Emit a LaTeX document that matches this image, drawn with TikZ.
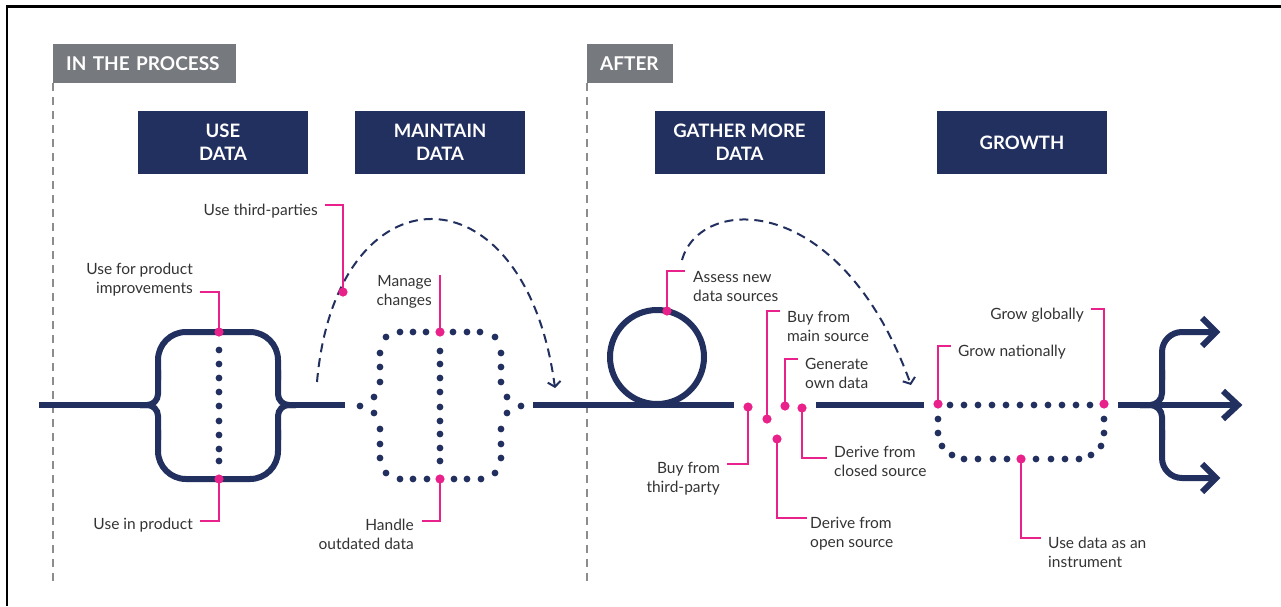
\documentclass[tikz,border=0pt]{standalone}
\usepackage{fontspec}
\setmainfont{Lato}
\usetikzlibrary{arrows.meta}
\definecolor{navy}{HTML}{22305F}
\definecolor{pinkline}{HTML}{E8228A}
\definecolor{tagGray}{HTML}{76797D}
\definecolor{sepGray}{HTML}{8C8C8C}
\definecolor{labelText}{HTML}{333333}

\begin{document}
\begin{tikzpicture}[x=1pt,y=-1pt,
  main/.style={draw=navy,line width=6pt},
  sep/.style={draw=sepGray,line width=2pt,dash pattern=on 8pt off 6pt},
  hop/.style={draw=navy,line width=2pt,dash pattern=on 9pt off 6pt,
    -{Straight Barb[length=5pt,width=13pt,line width=2pt]}},
  lead/.style={draw=pinkline,line width=2pt},
  navybox/.style={fill=navy,text=white,minimum width=170pt,minimum height=63pt,
    inner sep=0pt,align=center,font=\bfseries\fontsize{18.5}{23}\selectfont},
  tagbox/.style={fill=tagGray,text=white,minimum height=39pt,inner xsep=13pt,
    inner ysep=0pt,anchor=north west,align=left,font=\bfseries\fontsize{19}{22}\selectfont},
  lbl/.style={text=labelText,inner sep=0pt,font=\fontsize{15.5}{19}\selectfont},
  lblR/.style={lbl,align=right,anchor=base east},
  lblL/.style={lbl,align=left,anchor=base west},
  dot/.style={fill=navy},
  pdot/.style={fill=pinkline}
]
\path[use as bounding box] (0,0) rectangle (1281,606);

% outer frame (top and left edges)
\draw[black,line width=2.5pt] (7,606) -- (7,6.5) -- (1281,6.5);

% phase tags and separators
\node[tagbox,text width=157pt] (tagproc) at (53,44) {IN THE PROCESS};
\node[tagbox,text width=60pt] (tagafter) at (587,44) {AFTER};
\draw[sep] (tagproc.south west) -- (53,582);
\draw[sep] (tagafter.south west) -- (587,582);

% stage headings
\node[navybox] (hUse) at (223,142.5) {USE\\DATA};
\node[navybox] (hMaint) at (440,142.5) {MAINTAIN\\DATA};
\node[navybox] (hGather) at (739.5,142.5) {GATHER MORE\\DATA};
\node[navybox] (hGrowth) at (1022,142.5) {GROWTH};

% ---- main flow line ----
\draw[main] (39,405) -- (149,405);
\draw[main,rounded corners=11pt] (140,405) -- (158,405) -- (158,370);
\draw[main,rounded corners=11pt] (140,405) -- (158,405) -- (158,440);
\draw[main,rounded corners=28pt] (158,380) -- (158,332) -- (278,332) -- (278,380);
\draw[main,rounded corners=28pt] (158,430) -- (158,479) -- (278,479) -- (278,430);
\draw[main,rounded corners=11pt] (296,405) -- (278,405) -- (278,370);
\draw[main,rounded corners=11pt] (296,405) -- (278,405) -- (278,440);
\draw[main] (287,405) -- (345,405);

\draw[main] (533,405) -- (734,405);
\draw[main] (657,357) circle[radius=47pt];
\draw[main] (816,405) -- (924,405);

% three-way fork
\draw[main] (1118,405) -- (1238,405);
\draw[main,line join=miter] (1223,391) -- (1238,405) -- (1223,419);
\draw[main,rounded corners=12pt] (1140,405) -- (1162,405) -- (1162,370);
\draw[main,rounded corners=20pt] (1162,380) -- (1162,332) -- (1216,332);
\draw[main,line join=miter] (1202,318) -- (1216,332) -- (1202,346);
\draw[main,rounded corners=12pt] (1140,405) -- (1162,405) -- (1162,440);
\draw[main,rounded corners=20pt] (1162,430) -- (1162,478) -- (1216,478);
\draw[main,line join=miter] (1202,464) -- (1216,478) -- (1202,492);

% ---- dotted paths ----
\foreach \y in {350,364,378,392,406,421,435,449,461}
  \fill[dot] (219,\y) circle[radius=3.4pt];

\foreach \p in {(360,406),(521,406),
  (400,332),(413,332),(426,332),(453,332),(467,332),(480,332),
  (386,337),(495,337),(386,473),(495,473),
  (380,353),(380,367),(380,382),(374,397),(374,413),(380,429),(380,444),(380,458),
  (501,353),(501,367),(501,382),(507,397),(507,413),(501,429),(501,444),(501,458),
  (400,479),(413,479),(427,479),(454,479),(467,479),(481,479)}
  \fill[dot] \p circle[radius=3.4pt];
\foreach \y in {351,364,378,392,407,421,434,448,461}
  \fill[dot] (440,\y) circle[radius=3.4pt];

\foreach \x in {950,964,978,992,1006,1020,1034,1048,1062,1076,1090}
  \fill[dot] (\x,405) circle[radius=3.4pt];
\foreach \x in {964,978,993,1007,1036,1051,1065,1079}
  \fill[dot] (\x,459) circle[radius=3.4pt];
\foreach \p in {(938,419),(938,433),(942,446),(952,455),
  (1091,455),(1101,446),(1104,433),(1104,419)}
  \fill[dot] \p circle[radius=3.4pt];

% ---- dashed hops ----
\coordinate (hopAs) at (317,382);
\coordinate (hopAe) at (555,388);
\draw[hop] (hopAs) .. controls (336,165) and (525,163) .. (hopAe);
\coordinate (hopBs) at (682,260);
\coordinate (hopBe) at (911,385);
\draw[hop] (hopBs) .. controls (700,195) and (840,190) .. (hopBe);

% ---- callouts ----
\coordinate (d1) at (219,332);  \coordinate (e1) at (200,292);
\coordinate (d2) at (219,479);  \coordinate (e2) at (200,521);
\coordinate (d3) at (343,292);  \coordinate (e3) at (325,205);
\coordinate (d4) at (440,332);  \coordinate (e4) at (440,275);
\coordinate (d5) at (440,479);  \coordinate (e5) at (422,521);
\coordinate (d6) at (667,311);  \coordinate (e6) at (685,271);
\coordinate (d7) at (748,407);  \coordinate (e7) at (727,464);
\coordinate (d8) at (767,419);  \coordinate (e8) at (780,311);
\coordinate (d9) at (777,439);  \coordinate (e9) at (807,518);
\coordinate (d10) at (785,406); \coordinate (e10) at (798,359);
\coordinate (d11) at (802,408); \coordinate (e11) at (827,458);
\coordinate (d12) at (938,404); \coordinate (e12) at (951,346);
\coordinate (d13) at (1104,404); \coordinate (e13) at (1091,309);
\coordinate (d14) at (1021,459); \coordinate (e14) at (1041,538);

\foreach \i in {1,2,3,5,6,7,8,9,10,11,12,13,14}
  \draw[lead] (d\i) |- (e\i);
\draw[lead] (d4) -- (e4);
\foreach \i in {1,...,14}
  \fill[pdot] (d\i) circle[radius=4.6pt];

% multi-line labels are placed by the baseline of their last line
\node[lblR] (l1) at (193,293) {Use for product\\improvements};
\node[lblR] (l2) at (193,529) {Use in product};
\node[lblR] (l3) at (318,215) {Use third-parties};
\node[lblR] (l4) at (432,305) {Manage\\changes};
\node[lblR] (l5) at (414,549) {Handle\\outdated data};
\node[lblL] (l6) at (693,301) {Assess new\\data sources};
\node[lblR] (l7) at (720,492) {Buy from\\third-party};
\node[lblL] (l8) at (787,341) {Buy from\\main source};
\node[lblL] (l9) at (810,547) {Derive from\\open source};
\node[lblL] (l10) at (805,388) {Generate\\own data};
\node[lblL] (l11) at (834,476) {Derive from\\closed source};
\node[lblL] (l12) at (958,356) {Grow nationally};
\node[lblR] (l13) at (1084,319) {Grow globally};
\node[lblL] (l14) at (1048,567) {Use data as an\\instrument};
\end{tikzpicture}
\end{document}
